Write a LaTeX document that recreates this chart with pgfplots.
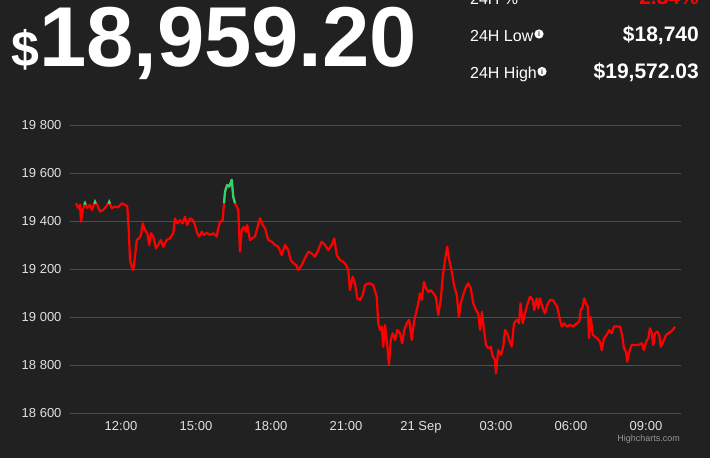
\documentclass[border=0pt]{standalone}
\usepackage{pgfplots}
\pgfplotsset{compat=1.18}
\usepackage{pgfplotstable}
\usepackage{fontspec}
\setmainfont{Liberation Sans}

\definecolor{bg}{RGB}{33,33,33}
\definecolor{gridc}{RGB}{78,78,78}
\definecolor{lbl}{RGB}{225,225,225}
\definecolor{pxred}{RGB}{255,0,0}
\definecolor{pxgreen}{RGB}{40,215,110}

% hours since 20 Sep 00:00, price in USD
\pgfplotstableread{
h price
10.20 19474
10.29 19454
10.36 19467
10.40 19397
10.47 19446
10.56 19475
10.65 19454
10.76 19467
10.84 19446
10.96 19480
11.05 19467
11.16 19439
11.29 19446
11.40 19460
11.53 19480
11.63 19453
11.76 19460
11.89 19457
12.03 19474
12.16 19467
12.25 19462
12.31 19362
12.36 19237
12.43 19210
12.49 19196
12.56 19251
12.63 19321
12.73 19328
12.80 19342
12.87 19390
12.96 19362
13.05 19349
13.13 19300
13.20 19349
13.29 19335
13.40 19286
13.49 19300
13.59 19321
13.69 19293
13.83 19321
13.96 19328
14.09 19349
14.16 19411
14.25 19390
14.36 19404
14.47 19390
14.56 19418
14.65 19383
14.76 19411
14.87 19404
14.96 19383
15.05 19349
15.13 19335
15.23 19355
15.32 19342
15.43 19351
15.56 19342
15.69 19349
15.83 19335
15.89 19370
15.96 19397
16.07 19404
16.12 19474
16.16 19522
16.20 19536
16.25 19550
16.33 19543
16.43 19572
16.49 19501
16.56 19474
16.63 19460
16.69 19446
16.76 19272
16.83 19362
16.92 19376
17.00 19355
17.05 19383
17.16 19321
17.25 19328
17.36 19335
17.45 19370
17.56 19411
17.67 19383
17.76 19370
17.89 19321
18.03 19314
18.16 19300
18.29 19293
18.43 19258
18.56 19300
18.69 19279
18.79 19237
18.89 19224
19.00 19217
19.09 19196
19.23 19217
19.36 19245
19.49 19272
19.63 19265
19.76 19251
19.89 19279
20.03 19314
20.16 19300
20.29 19279
20.43 19300
20.53 19328
20.63 19258
20.76 19237
20.89 19230
21.00 19217
21.09 19196
21.16 19112
21.27 19168
21.36 19140
21.45 19078
21.56 19071
21.67 19092
21.76 19133
21.89 19140
21.96 19140
22.09 19133
22.23 19085
22.29 18974
22.36 18946
22.43 18960
22.49 18876
22.56 18967
22.63 18904
22.72 18800
22.79 18904
22.87 18932
22.96 18904
23.05 18946
23.16 18932
23.25 18890
23.33 18946
23.43 18974
23.53 18988
23.63 18904
23.72 18980
23.83 19029
23.89 19057
23.96 19099
24.03 19071
24.12 19147
24.20 19120
24.29 19105
24.39 19112
24.49 19099
24.59 19085
24.69 19008
24.79 19071
24.87 19168
24.96 19237
25.05 19293
25.13 19237
25.23 19189
25.32 19133
25.43 19092
25.52 19001
25.59 19057
25.69 19092
25.80 19126
25.89 19140
25.99 19120
26.09 19057
26.20 19029
26.29 19015
26.36 18946
26.44 19022
26.52 18946
26.60 18883
26.69 18870
26.79 18876
26.87 18835
26.96 18821
27.00 18765
27.09 18862
27.20 18842
27.29 18876
27.36 18946
27.45 18932
27.53 18904
27.63 18876
27.72 18974
27.83 18988
27.92 18974
27.98 19057
28.07 18974
28.16 19015
28.25 19050
28.36 19085
28.47 19071
28.53 19029
28.63 19078
28.69 19036
28.76 19078
28.85 19043
28.96 19015
29.05 19050
29.16 19071
29.27 19071
29.36 19057
29.45 19043
29.53 19001
29.63 18960
29.72 18974
29.83 18960
29.96 18967
30.09 18960
30.23 18974
30.33 18980
30.39 19029
30.47 19043
30.53 19078
30.60 19057
30.67 19043
30.72 18911
30.79 19001
30.87 18925
30.96 18918
31.05 18911
31.16 18897
31.23 18862
31.32 18911
31.43 18925
31.53 18946
31.63 18932
31.72 18960
31.83 18960
31.96 18960
32.03 18932
32.12 18870
32.20 18855
32.25 18814
32.33 18855
32.43 18883
32.56 18883
32.69 18883
32.83 18890
32.92 18862
33.00 18897
33.09 18911
33.16 18953
33.23 18932
33.29 18883
33.36 18932
33.45 18939
33.53 18925
33.59 18876
33.69 18897
33.80 18925
33.89 18932
33.99 18939
34.07 18946
34.16 18959
}\pricedata

\begin{document}
\begin{tikzpicture}
\clip (0,0) rectangle (710bp,458bp);
\fill[bg] (0,0) rectangle (710bp,458bp);

% header
\node[anchor=base west, inner sep=0, text=white, font=\bfseries] at (11bp,391bp)
  {{\fontsize{50bp}{50bp}\selectfont\$}{\fontsize{85bp}{85bp}\selectfont 18,959.20}};

\node[anchor=base west, inner sep=0, text=white, font=\fontsize{16bp}{16bp}\selectfont] at (470bp,453.5bp) {24H \%};
\node[anchor=base east, inner sep=0, text=pxred, font=\fontsize{21bp}{21bp}\selectfont\bfseries] at (699bp,453.5bp) {-2.34\%};

\node[anchor=base west, inner sep=0, text=white, font=\fontsize{16bp}{16bp}\selectfont] at (470bp,416bp) {24H Low};
\fill[white] (539bp,424bp) circle (4.6bp);
\node[text=bg, inner sep=0, font=\fontsize{7bp}{7bp}\selectfont\bfseries] at (539bp,424bp) {i};
\node[anchor=base east, inner sep=0, text=white, font=\fontsize{21bp}{21bp}\selectfont\bfseries] at (699bp,416bp) {\$18,740};

\node[anchor=base west, inner sep=0, text=white, font=\fontsize{16bp}{16bp}\selectfont] at (470bp,379bp) {24H High};
\fill[white] (542bp,386.5bp) circle (4.6bp);
\node[text=bg, inner sep=0, font=\fontsize{7bp}{7bp}\selectfont\bfseries] at (542bp,386.5bp) {i};
\node[anchor=base east, inner sep=0, text=white, font=\fontsize{21bp}{21bp}\selectfont\bfseries] at (699bp,379bp) {\$19,572.03};

\begin{axis}[
    at={(70bp,45bp)}, anchor=south west,
    width=611bp, height=288bp, scale only axis,
    xmin=9.96, xmax=34.4,
    ymin=18600, ymax=19800,
    scaled y ticks=false,
    axis line style={draw=none},
    tick style={draw=none},
    ymajorgrids=true,
    grid style={gridc, line width=0.8bp},
    ytick={18600,18800,...,19800},
    yticklabels={18 600,18 800,19 000,19 200,19 400,19 600,19 800},
    xtick={12,15,...,33},
    xticklabels={12:00,15:00,18:00,21:00,21 Sep,03:00,06:00,09:00},
    ticklabel style={font=\fontsize{13bp}{13bp}\selectfont, text=lbl},
    yticklabel style={xshift=-5bp},
    xticklabel style={yshift=-5bp},
  ]
  \addplot[pxred, line width=2.2bp, line join=round] table[x=h, y=price] {\pricedata};
  \addplot[pxgreen, line width=2.2bp, line join=round] coordinates {
    (16.12,19474) (16.16,19522) (16.20,19536) (16.25,19550) (16.33,19543)
    (16.43,19572) (16.49,19501) (16.56,19474)};
  \addplot[pxgreen, line width=2.2bp] coordinates {(10.53,19468) (10.56,19475) (10.59,19468)};
  \addplot[pxgreen, line width=2.2bp] coordinates {(10.93,19472) (10.96,19480) (10.99,19472)};
  \addplot[pxgreen, line width=2.2bp] coordinates {(11.50,19472) (11.53,19480) (11.56,19472)};
\end{axis}

\node[anchor=base east, inner sep=0, text={rgb,255:red,150;green,150;blue,150}, font=\fontsize{9bp}{9bp}\selectfont] at (680bp,17bp) {Highcharts.com};
\end{tikzpicture}
\end{document}
